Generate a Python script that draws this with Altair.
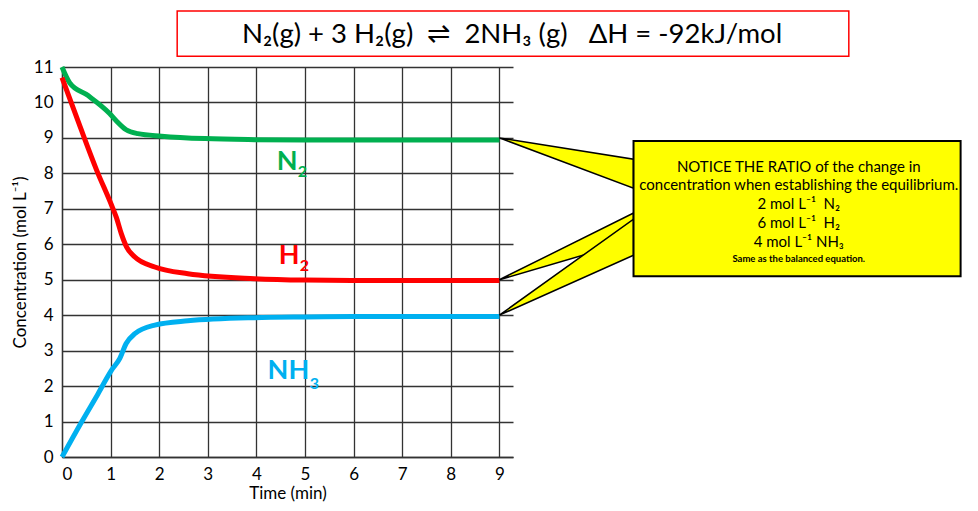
import altair as alt
import pandas as pd

# ---- data ----
n2_t = [0, 0.16, 0.53, 0.98, 1.12, 1.32, 1.56, 2.05, 2.94, 3.96, 5, 6, 7, 8, 9]
n2_c = [11.0, 10.55, 10.2, 9.69, 9.48, 9.23, 9.12, 9.05, 8.98, 8.95, 8.94, 8.94, 8.94, 8.94, 8.94]

h2_t = [0, 0.35, 0.71, 1.02, 1.12, 1.22, 1.33, 1.5, 1.91, 2.59, 3.96, 5, 6, 7, 8, 9]
h2_c = [10.7, 9.4, 8.1, 7.1, 6.75, 6.3, 5.92, 5.64, 5.36, 5.17, 5.03, 4.99, 4.98, 4.98, 4.98, 4.98]

nh3_t = [0, 0.4, 0.74, 1.02, 1.19, 1.32, 1.5, 1.91, 2.59, 3.96, 5, 6, 7, 8, 9]
nh3_c = [0, 0.98, 1.78, 2.45, 2.78, 3.2, 3.48, 3.72, 3.84, 3.93, 3.95, 3.96, 3.96, 3.96, 3.96]

series_names = ["N2", "H2", "NH3"]
series_colors = ["#00B050", "#FF0000", "#00B0F0"]

x_ticks = list(range(0, 10))
y_ticks = list(range(0, 12))

NB = "\u00a0"
title_text = ("N\u2082(g) + 3 H\u2082(g)" + NB * 2 + "\u21cc" + NB * 2 + "2NH\u2083 (g)"
              + NB * 3 + "\u0394H = -92kJ/mol")
box_lines = [
    "NOTICE THE RATIO of the change in",
    "concentration when establishing the equilibrium.",
    "2 mol L\u207b\u00b9" + NB * 2 + "N\u2082",
    "6 mol L\u207b\u00b9" + NB * 2 + "H\u2082",
    "4 mol L\u207b\u00b9 NH\u2083",
]
box_note = "Same as the balanced equation."

# ---- build tables ----
rows = []
for name, ts, cs in [("N2", n2_t, n2_c), ("H2", h2_t, h2_c), ("NH3", nh3_t, nh3_c)]:
    for t, c in zip(ts, cs):
        rows.append({"series": name, "t": t, "c": c, "order": t})
curves = pd.DataFrame(rows)

FONT = "Lato"

xs = alt.Scale(domain=[0, 9.28], nice=False, zero=False)
ys = alt.Scale(domain=[0, 11], nice=False, zero=False)
X_TITLE = "Time (min)"
Y_TITLE = "Concentration (mol L\u207b\u00b9)"
x_axis = alt.Axis(values=x_ticks, grid=True, ticks=False, labelPadding=9, titlePadding=3)
y_axis = alt.Axis(values=y_ticks, grid=True, ticks=False, labelPadding=9, titlePadding=4)


def X(field):
    return alt.X(field, type="quantitative", scale=xs, title=X_TITLE, axis=x_axis)


def Y(field):
    return alt.Y(field, type="quantitative", scale=ys, title=Y_TITLE, axis=y_axis)


color_enc = alt.Color("series:N", scale=alt.Scale(domain=series_names, range=series_colors),
                      legend=None)

lines = alt.Chart(curves).mark_line(strokeWidth=5, interpolate="monotone").encode(
    x=X("t"), y=Y("c"), color=color_enc, order="order:Q")


# callout wedges (in data units of the plot)
def wedge(tip_y, top_y, bot_y):
    return pd.DataFrame({"t": [9.0, 11.76], "c": [tip_y, top_y], "c2": [tip_y, bot_y]})


def wedge_layer(df):
    return alt.Chart(df).mark_area(fill="#FFFF00", stroke="black", strokeWidth=1.5,
                                   strokeJoin="miter").encode(x=X("t"), y=Y("c"), y2="c2:Q")


w1 = wedge_layer(wedge(9.0, 8.40, 7.58))
w2 = wedge_layer(wedge(5.0, 6.88, 6.11))
w3 = wedge_layer(wedge(4.0, 6.71, 5.69))

box = alt.Chart(pd.DataFrame({"t": [11.76], "t2": [18.49], "c": [8.91], "c2": [5.10]})).mark_rect(
    fill="#FFFF00", stroke="black", strokeWidth=2).encode(
    x=X("t"), x2="t2:Q", y=Y("c"), y2="c2:Q")

box_df = pd.DataFrame({"text": box_lines, "t": [15.16] * 5,
                       "c": [8.04, 7.52, 6.99, 6.46, 5.92]})
box_text = alt.Chart(box_df).mark_text(font=FONT, fontSize=15, align="center",
                                       baseline="alphabetic", color="black").encode(
    x=X("t"), y=Y("c"), text="text:N")

note = alt.Chart(pd.DataFrame({"text": [box_note], "t": [15.16], "c": [5.50]})).mark_text(
    font=FONT, fontSize=9.5, fontWeight="bold", align="center", baseline="alphabetic",
    color="black").encode(x=X("t"), y=Y("c"), text="text:N")

# equation title box
tbox = alt.Chart(pd.DataFrame({"t": [2.37], "t2": [16.19], "c": [12.58], "c2": [11.30]})).mark_rect(
    fill="white", stroke="#FF0000", strokeWidth=1.5).encode(
    x=X("t"), x2="t2:Q", y=Y("c"), y2="c2:Q")

ttext = alt.Chart(pd.DataFrame({"text": [title_text], "t": [9.26], "c": [11.67]})).mark_text(
    font=FONT, fontSize=27.5, align="center", baseline="alphabetic", color="black").encode(
    x=X("t"), y=Y("c"), text="text:N")

# series labels with subscripts
lab_main = pd.DataFrame({"text": ["N", "H", "NH"], "t": [4.42, 4.46, 4.23],
                         "c": [8.09, 5.44, 2.19], "series": series_names})
lab_sub = pd.DataFrame({"text": ["2", "2", "3"], "t": [4.85, 4.89, 5.10],
                        "c": [7.89, 5.25, 1.91], "series": series_names})


def label_layer(df, size):
    return alt.Chart(df).mark_text(font=FONT, fontSize=size, fontWeight="bold", align="left",
                                   baseline="alphabetic").encode(
        x=X("t"), y=Y("c"), text="text:N", color=color_enc)


labels = label_layer(lab_main, 27)
subs = label_layer(lab_sub, 16)

chart = alt.layer(lines, w1, w2, w3, box, box_text, note, tbox, ttext, labels, subs).properties(
    width=451, height=390,
    autosize=alt.AutoSizeParams(type="none"),
    padding={"left": 54, "top": 59, "right": 457, "bottom": 46},
).configure_view(stroke=None).configure_axis(
    gridColor="#333333", gridWidth=1.3, domainColor="#333333", domainWidth=1.3,
    labelFont=FONT, labelFontSize=17, labelColor="black",
    titleFont=FONT, titleFontSize=17, titleFontWeight="normal", titleColor="black",
)

chart.save("out.html", embed_options={"renderer": "svg", "actions": False})
